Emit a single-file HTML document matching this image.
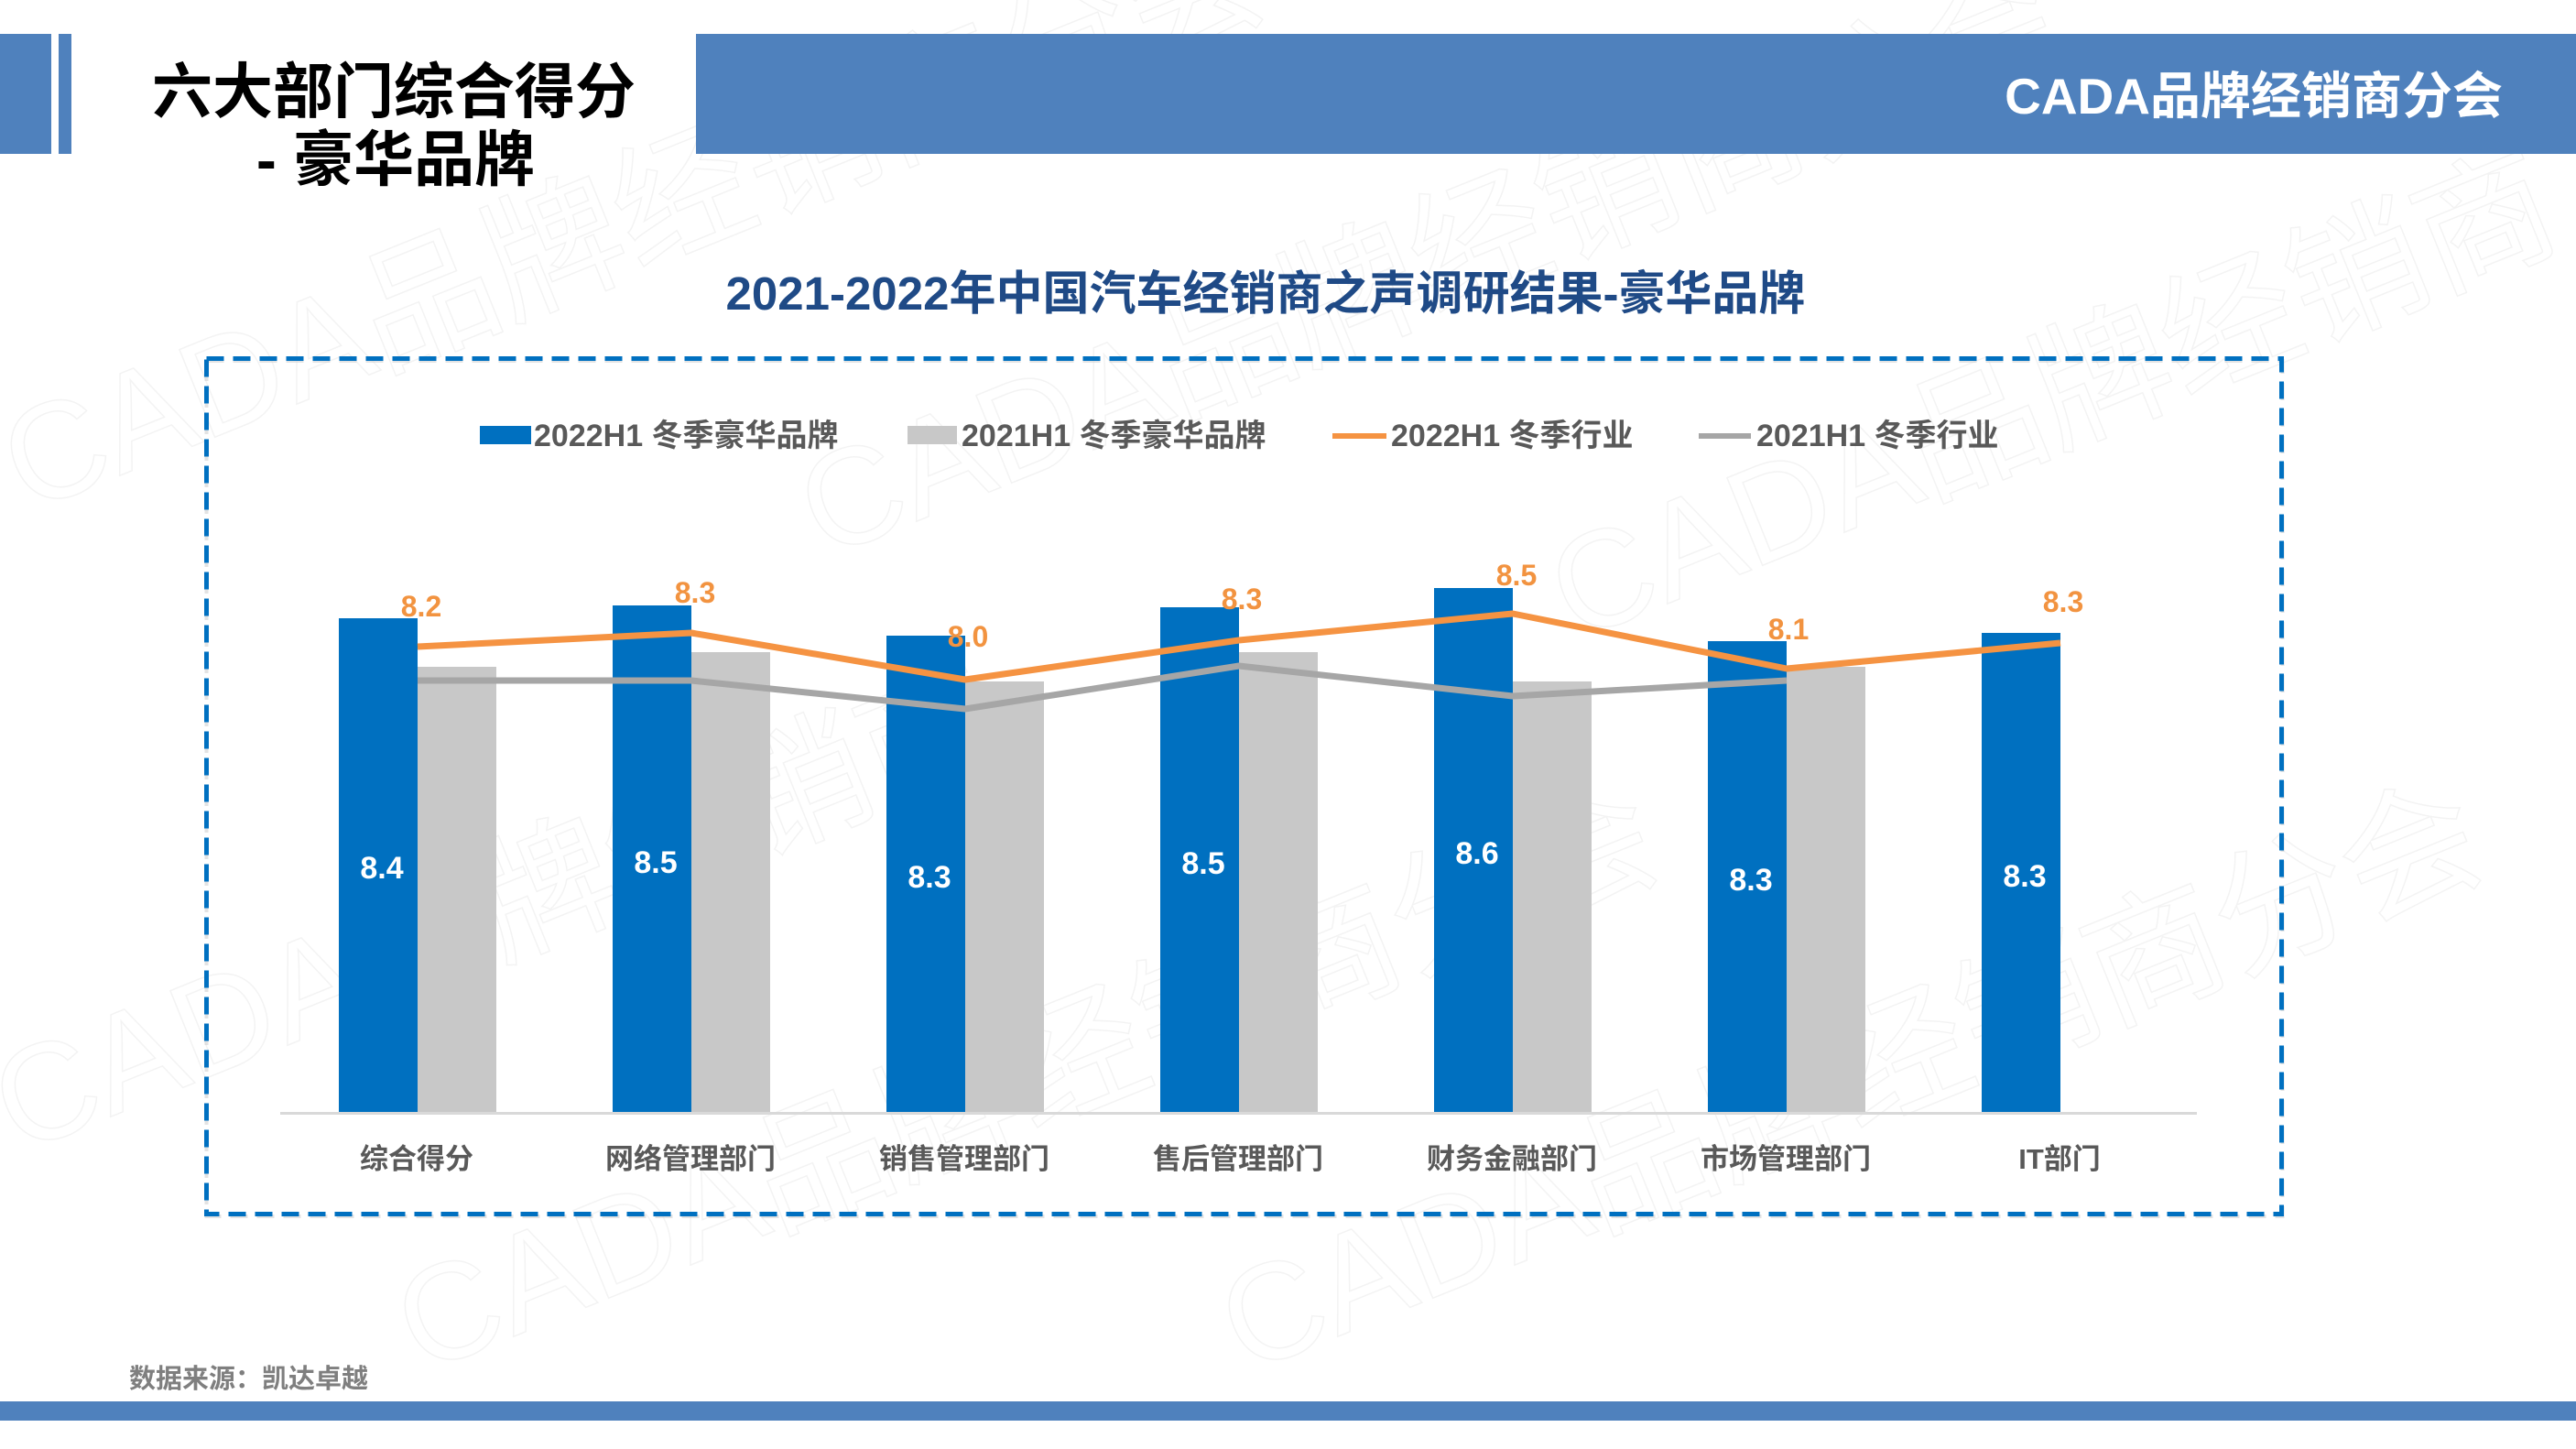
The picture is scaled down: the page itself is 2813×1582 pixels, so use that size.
<!DOCTYPE html>
<html>
<head>
<meta charset="utf-8">
<style>
html,body{margin:0;padding:0;background:#fff;}
body{width:2813px;height:1582px;overflow:hidden;}
svg{display:block;}
text{font-family:"Liberation Sans","Noto Sans CJK SC",sans-serif;}
</style>
</head>
<body>
<svg width="2813" height="1582" viewBox="0 0 2813 1582" xmlns="http://www.w3.org/2000/svg">
  <rect x="0" y="0" width="2813" height="1582" fill="#ffffff"/>

  <!-- watermark (faint outlined) -->
  <g fill="none" stroke="#f3f3f3" stroke-width="1.5" font-size="150" font-weight="normal">
    <text x="30" y="560" transform="rotate(-22 30 560)">CADA品牌经销商分会</text>
    <text x="900" y="610" transform="rotate(-22 900 610)">CADA品牌经销商分会</text>
    <text x="1720" y="700" transform="rotate(-22 1720 700)">CADA品牌经销商</text>
    <text x="20" y="1260" transform="rotate(-22 20 1260)">CADA品牌经销商</text>
    <text x="460" y="1500" transform="rotate(-22 460 1500)">CADA品牌经销商分会</text>
    <text x="1360" y="1500" transform="rotate(-22 1360 1500)">CADA品牌经销商分会</text>
  </g>

  <!-- header bars -->
  <rect x="0" y="37" width="56" height="131" fill="#4f81bd"/>
  <rect x="64" y="37" width="14" height="131" fill="#4f81bd"/>
  <rect x="760" y="37" width="2053" height="131" fill="#4f81bd"/>

  <!-- page title -->
  <text x="430" y="123" font-size="66" font-weight="bold" fill="#000" text-anchor="middle">六大部门综合得分</text>
  <text x="432" y="197" font-size="66" font-weight="bold" fill="#000" text-anchor="middle">- 豪华品牌</text>

  <!-- header right text -->
  <text x="2733" y="124" font-size="55" font-weight="bold" fill="#ffffff" text-anchor="end">CADA品牌经销商分会</text>

  <!-- chart title -->
  <text x="1382" y="338" font-size="51" font-weight="bold" fill="#1f4a86" text-anchor="middle">2021-2022年中国汽车经销商之声调研结果-豪华品牌</text>

  <!-- dashed box -->
  <rect x="225.5" y="394" width="2267" height="934" fill="none" stroke="#d0d0d0" stroke-width="4" stroke-dasharray="19 10" opacity="0.6"/>
  <rect x="225.5" y="391.5" width="2266" height="934" fill="none" stroke="#0070c0" stroke-width="5" stroke-dasharray="19 10"/>

  <!-- legend -->
  <rect x="524" y="465" width="56" height="20" fill="#0070c0"/>
  <text x="583" y="487" font-size="34" font-weight="bold" fill="#595959">2022H1 冬季豪华品牌</text>
  <rect x="991" y="465" width="54" height="20" fill="#c8c8c8"/>
  <text x="1050" y="487" font-size="34" font-weight="bold" fill="#595959">2021H1 冬季豪华品牌</text>
  <line x1="1455" y1="476" x2="1514" y2="476" stroke="#f59342" stroke-width="6"/>
  <text x="1519" y="487" font-size="34" font-weight="bold" fill="#595959">2022H1 冬季行业</text>
  <line x1="1855" y1="476" x2="1912" y2="476" stroke="#a6a6a6" stroke-width="6"/>
  <text x="1918" y="487" font-size="34" font-weight="bold" fill="#595959">2021H1 冬季行业</text>

  <!-- bars: blue 2022 -->
  <g fill="#0070c0">
    <rect x="370" y="675" width="86" height="539"/>
    <rect x="669" y="661" width="86" height="553"/>
    <rect x="968" y="694" width="86" height="520"/>
    <rect x="1267" y="663" width="86" height="551"/>
    <rect x="1566" y="642" width="86" height="572"/>
    <rect x="1865" y="700" width="86" height="514"/>
    <rect x="2164" y="691" width="86" height="523"/>
  </g>
  <!-- bars: gray 2021 -->
  <g fill="#c8c8c8">
    <rect x="456" y="728" width="86" height="486"/>
    <rect x="755" y="712" width="86" height="502"/>
    <rect x="1054" y="744" width="86" height="470"/>
    <rect x="1353" y="712" width="86" height="502"/>
    <rect x="1652" y="744" width="86" height="470"/>
    <rect x="1951" y="728" width="86" height="486"/>
  </g>

  <!-- axis -->
  <rect x="306" y="1214" width="2093" height="3" fill="#d9d9d9"/>

  <!-- lines -->
  <polyline points="456,743 755,743 1054,774 1353,727 1652,760 1951,743" fill="none" stroke="#a6a6a6" stroke-width="7" stroke-linejoin="round"/>
  <polyline points="456,706 755,691 1054,742 1353,699 1652,670 1951,730 2250,702" fill="none" stroke="#f59342" stroke-width="7" stroke-linejoin="round"/>

  <!-- orange labels -->
  <g font-size="32" font-weight="bold" fill="#f29340" text-anchor="middle">
    <text x="460" y="673">8.2</text>
    <text x="759" y="658">8.3</text>
    <text x="1057" y="706">8.0</text>
    <text x="1356" y="665">8.3</text>
    <text x="1656" y="639">8.5</text>
    <text x="1953" y="698">8.1</text>
    <text x="2253" y="668">8.3</text>
  </g>

  <!-- white labels -->
  <g font-size="34" font-weight="bold" fill="#ffffff" text-anchor="middle">
    <text x="417" y="959">8.4</text>
    <text x="716" y="953">8.5</text>
    <text x="1015" y="969">8.3</text>
    <text x="1314" y="954">8.5</text>
    <text x="1613" y="943">8.6</text>
    <text x="1912" y="972">8.3</text>
    <text x="2211" y="968">8.3</text>
  </g>

  <!-- category labels -->
  <g font-size="31" font-weight="bold" fill="#595959" text-anchor="middle">
    <text x="455" y="1276">综合得分</text>
    <text x="754" y="1276">网络管理部门</text>
    <text x="1053" y="1276">销售管理部门</text>
    <text x="1352" y="1276">售后管理部门</text>
    <text x="1651" y="1276">财务金融部门</text>
    <text x="1950" y="1276">市场管理部门</text>
    <text x="2249" y="1276">IT部门</text>
  </g>

  <!-- source -->
  <text x="141" y="1515" font-size="29" font-weight="bold" fill="#7f7f7f">数据来源：凯达卓越</text>

  <!-- bottom bar -->
  <rect x="0" y="1530" width="2813" height="21" fill="#4f81bd"/>
</svg>
</body>
</html>
